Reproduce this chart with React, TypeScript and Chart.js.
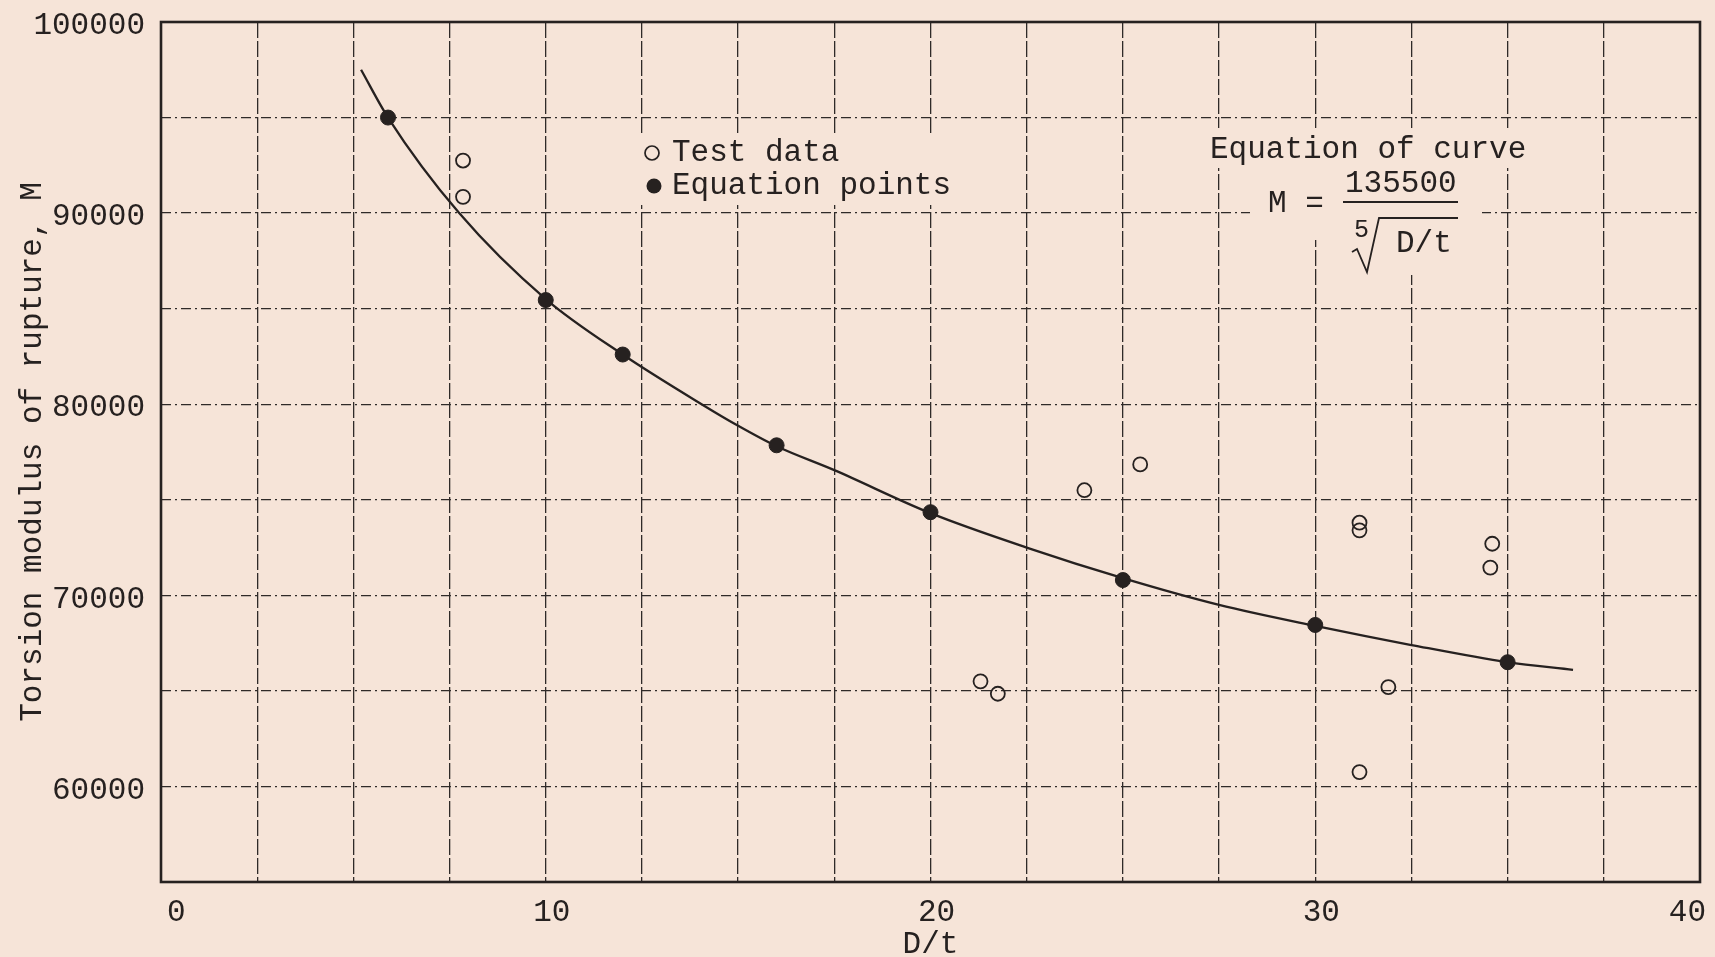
import React, { useEffect, useRef } from 'react';
import { Chart, registerables } from 'chart.js';

Chart.register(...registerables);

// ---- data ----
const xLabelValues = [0, 10, 20, 30, 40];
const yLabelValues = [60000, 70000, 80000, 90000, 100000];

// smooth fitted curve (traced)
const curveX = [5.2, 5.9, 7.75, 10, 12, 14.05, 15, 16, 17.5, 20, 22.5, 25, 27.5, 30, 32.5, 35, 36.7];
const curveY = [97500, 95000, 90000, 85500, 82600, 80000, 78870, 77800, 76550, 74300, 72500, 70900, 69500, 68400, 67400, 66500, 66100];

// equation points (filled)
const eqX = [5.9, 10, 12, 16, 20, 25, 30, 35];
const eqY = [95000, 85450, 82600, 77850, 74350, 70800, 68450, 66500];

// test data (open circles)
const testX = [7.85, 7.85, 24.0, 25.45, 21.3, 21.75, 31.15, 31.15, 31.9, 31.15, 34.6, 34.55];
const testY = [92750, 90850, 75500, 76850, 65500, 64850, 73800, 73400, 65200, 60750, 72700, 71450];

const FONT = '"Liberation Mono", "DejaVu Sans Mono", monospace';
const INK = '#262120';
const GRID = '#2f2a28';
const PAPER = '#f6e4d8';

const near = (v: number, list: number[]) => list.some((l) => Math.abs(l - v) < 1e-6);

const paperPlugin = {
  id: 'paper',
  beforeDraw(chart: any) {
    const { ctx, width, height } = chart;
    ctx.save();
    ctx.fillStyle = PAPER;
    ctx.fillRect(0, 0, width, height);
    ctx.restore();
  },
  beforeDatasetsDraw(chart: any) {
    // white-out of the grid behind the typed legend / equation
    const { ctx } = chart;
    ctx.save();
    ctx.fillStyle = PAPER;
    ctx.fillRect(640, 133, 320, 72);
    ctx.fillRect(1205, 128, 335, 40);
    ctx.fillRect(1250, 165, 232, 75);
    ctx.fillRect(1385, 235, 80, 40);
    ctx.restore();
  },
  afterDatasetsDraw(chart: any) {
    const { ctx, chartArea } = chart;
    ctx.save();
    ctx.strokeStyle = INK;
    ctx.lineWidth = 2.6;
    ctx.strokeRect(chartArea.left, chartArea.top, chartArea.right - chartArea.left, chartArea.bottom - chartArea.top);
    ctx.restore();
  },
  afterDraw(chart: any) {
    const { ctx } = chart;
    ctx.save();
    ctx.fillStyle = INK;
    ctx.strokeStyle = INK;
    ctx.font = '31px ' + FONT;
    ctx.textBaseline = 'middle';
    ctx.textAlign = 'left';
    // legend
    ctx.lineWidth = 1.7;
    ctx.beginPath();
    ctx.arc(652, 153, 7, 0, Math.PI * 2);
    ctx.stroke();
    ctx.fillText('Test data', 672, 153);
    ctx.beginPath();
    ctx.arc(654, 186, 7.5, 0, Math.PI * 2);
    ctx.fill();
    ctx.fillText('Equation points', 672, 186);
    // equation
    ctx.fillText('Equation of curve', 1210, 150);
    ctx.fillText('M =', 1268, 204);
    ctx.fillText('135500', 1345, 184);
    ctx.lineWidth = 2;
    ctx.beginPath();
    ctx.moveTo(1343, 202);
    ctx.lineTo(1458, 202);
    ctx.stroke();
    ctx.font = '25px ' + FONT;
    ctx.fillText('5', 1354, 230);
    ctx.lineWidth = 1.8;
    ctx.beginPath();
    ctx.moveTo(1352, 252);
    ctx.lineTo(1357, 249);
    ctx.lineTo(1367, 272);
    ctx.lineTo(1379, 218);
    ctx.lineTo(1458, 218);
    ctx.stroke();
    ctx.font = '31px ' + FONT;
    ctx.fillText('D/t', 1396, 244);
    ctx.restore();
  },
};

export default function App() {
  const ref = useRef<HTMLCanvasElement | null>(null);

  useEffect(() => {
    if (!ref.current) return;
    const chart = new Chart(ref.current, {
      type: 'scatter',
      data: {
        datasets: [
          {
            label: 'Equation points',
            data: eqX.map((x, i) => ({ x, y: eqY[i] })),
            pointRadius: 7.5,
            pointBackgroundColor: INK,
            pointBorderColor: INK,
            pointBorderWidth: 1,
            showLine: false,
          },
          {
            label: 'Test data',
            data: testX.map((x, i) => ({ x, y: testY[i] })),
            pointRadius: 7,
            pointBackgroundColor: 'rgba(0,0,0,0)',
            pointBorderColor: INK,
            pointBorderWidth: 1.8,
            showLine: false,
          },
          {
            type: 'line',
            label: 'Curve',
            data: curveX.map((x, i) => ({ x, y: curveY[i] })),
            borderColor: INK,
            borderWidth: 2.3,
            pointRadius: 0,
            showLine: true,
            fill: false,
            cubicInterpolationMode: 'monotone',
          } as any,
        ],
      },
      options: {
        animation: false,
        responsive: false,
        layout: { padding: { top: 22, right: 15, left: 0, bottom: 0 } },
        plugins: { legend: { display: false }, tooltip: { enabled: false } },
        scales: {
          x: {
            type: 'linear',
            min: 0,
            max: 40,
            afterFit: (s: any) => {
              s.height = 75;
              s.paddingLeft = 0;
              s.paddingRight = 0;
            },
            ticks: {
              stepSize: 2.5,
              autoSkip: false,
              maxRotation: 0,
              padding: 12,
              align: 'inner',
              labelOffset: 6,
              color: INK,
              font: { family: FONT, size: 31 },
              callback: (v: any) => (near(Number(v), xLabelValues) ? String(v) : ''),
            },
            grid: {
              color: GRID,
              lineWidth: 1.3,
              drawTicks: false,
            },
            border: { display: false, dash: [16, 3] },
            title: {
              display: true,
              text: 'D/t',
              color: INK,
              font: { family: FONT, size: 31, lineHeight: 0.8 },
              padding: { top: 0, bottom: 0 },
            },
          },
          y: {
            type: 'linear',
            min: 55000,
            max: 100000,
            afterFit: (s: any) => {
              s.width = 161;
              s.paddingTop = 0;
              s.paddingBottom = 0;
            },
            ticks: {
              stepSize: 5000,
              autoSkip: false,
              padding: 16,
              labelOffset: 4,
              color: INK,
              font: { family: FONT, size: 31 },
              callback: (v: any) => (near(Number(v), yLabelValues) ? String(v) : ''),
            },
            grid: {
              color: GRID,
              lineWidth: 1.3,
              drawTicks: false,
            },
            border: { display: false, dash: [10, 4, 2, 4] },
            title: {
              display: true,
              text: 'Torsion modulus of rupture, M',
              color: INK,
              font: { family: FONT, size: 31, lineHeight: 1 },
              padding: { top: 17, bottom: 0 },
            },
          },
        },
      },
      plugins: [paperPlugin],
    });
    return () => chart.destroy();
  }, []);

  return (
    <div style={{ position: 'fixed', left: 0, top: 0, width: 1715, height: 957, background: PAPER }}>
      <canvas ref={ref} width={1715} height={957} style={{ width: 1715, height: 957, display: 'block' }} />
    </div>
  );
}
